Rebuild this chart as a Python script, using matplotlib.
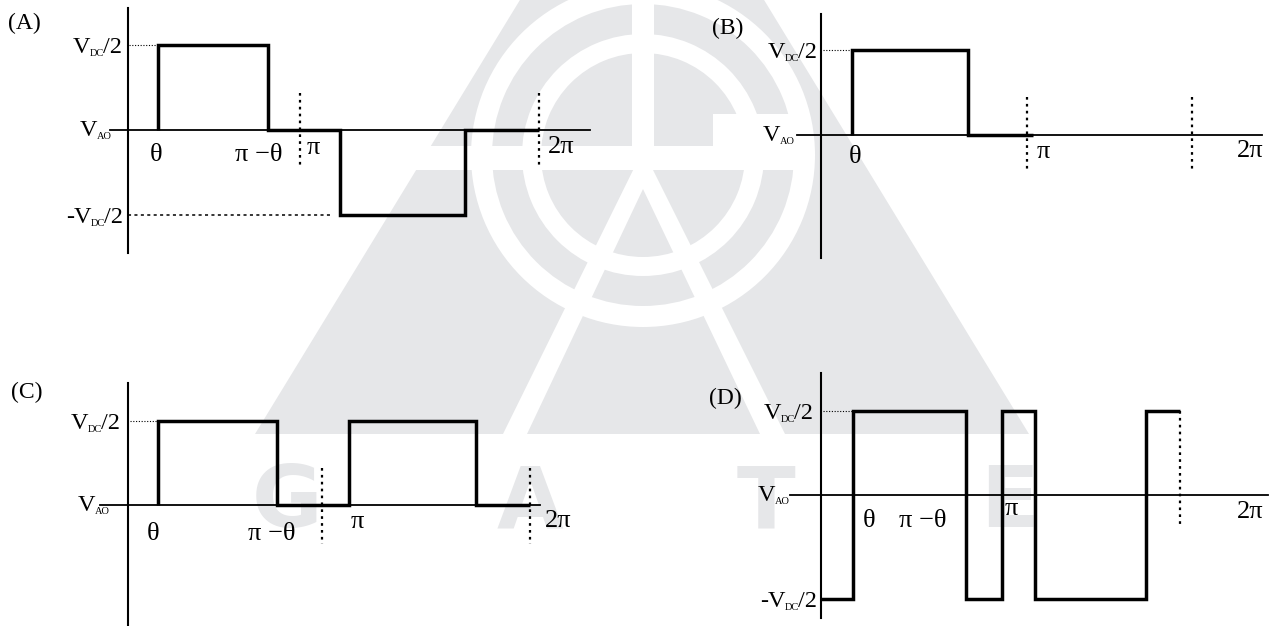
import matplotlib
matplotlib.use("Agg")
import matplotlib.pyplot as plt
from matplotlib.transforms import Affine2D
from matplotlib import patches

# ---------------- data (angles in degrees as drawn, levels in units of V_DC/2 as drawn)
panel_names = ["(A)", "(B)", "(C)", "(D)"]

A_angles = [31.4, 31.4, 146.5, 146.5, 222.0, 222.0, 352.7, 352.7, 430.0]
A_levels = [0, 1, 1, 0, 0, -1, -1, 0, 0]
B_angles = [27.1, 27.1, 128.5, 128.5, 185.0]
B_levels = [0, 1, 1, 0, 0]
C_angles = [27.8, 27.8, 138.0, 138.0, 205.0, 205.0, 323.0, 323.0, 373.0]
C_levels = [0, 1, 1, 0, 0, 1, 1, 0, 0]
D_angles = [0.0, 31.8, 31.8, 144.2, 144.2, 180.0, 180.0, 212.8, 212.8, 323.2, 323.2, 357.0]
D_levels = [-1.24, -1.24, 1, 1, -1.24, -1.24, 1, 1, -1.24, -1.24, 1, 1]

A_marks = [180.0, 430.0]
B_marks = [180.0, 324.0]
C_marks = [180.0, 373.0]
D_marks = [357.0]

A_tick_labels = ["θ", "π −θ", "π", "2π"]
A_tick_angles = [29.3, 137.0, 193.6, 453.0]
B_tick_labels = ["θ", "π", "2π"]
B_tick_angles = [29.7, 194.0, 375.0]
C_tick_labels = ["θ", "π −θ", "π", "2π"]
C_tick_angles = [23.2, 133.6, 212.4, 399.0]
D_tick_labels = ["θ", "π −θ", "π", "2π"]
D_tick_angles = [47.7, 101.4, 189.0, 426.6]

# ---------------- layout
SERIF = "Liberation Serif"
fig = plt.figure(figsize=(12.75, 6.26), dpi=100)
ax = fig.add_axes([0, 0, 1, 1])
ax.set_xlim(0, 1275)
ax.set_ylim(626, 0)
ax.axis("off")
renderer = fig.canvas.get_renderer()

# ---------------- watermark
WM = "#e6e7e9"
ax.add_patch(patches.Polygon([(642, -200), (255, 434), (1029, 434)], closed=True,
                             fc=WM, ec="none", zorder=0))
ax.add_patch(patches.Polygon([(643, 150), (503, 434), (785, 434)], closed=True,
                             fc="white", ec="none", zorder=0.1))
ax.add_patch(patches.Polygon([(643, 189), (527, 434), (760, 434)], closed=True,
                             fc=WM, ec="none", zorder=0.2))
ax.add_patch(patches.Annulus((643, 155), 172, 21, fc="white", ec="none", zorder=0.3))
ax.add_patch(patches.Annulus((643, 155), 121, 19, fc="white", ec="none", zorder=0.3))
ax.add_patch(patches.Rectangle((632, -5), 22, 152, fc="white", ec="none", zorder=0.4))
ax.add_patch(patches.Rectangle((400, 146), 409, 24, fc="white", ec="none", zorder=0.4))
ax.add_patch(patches.Rectangle((713, 114), 96, 34, fc="white", ec="none", zorder=0.4))
for letter, xc in zip(["G", "A", "T", "E"], [287, 530, 766, 1010]):
    ax.text(xc, 527, letter, ha="center", va="baseline", fontsize=62,
            fontweight="bold", family="DejaVu Sans", color=WM, zorder=0.5)

# ---------------- panels
panels = [
    dict(name=panel_names[0], x0=128, y0=130, sx=172 / 180, sy=85,
         ang=A_angles, lev=A_levels, marks=A_marks, mark_ext=(0.44, -0.45),
         vaxis=(1.435, -1.447), base=(-19.0, 483.0),
         tl=A_tick_labels, ta=A_tick_angles, tb=[161, 161, 154, 153],
         name_pos=(8, 29), lab_hi=122, lab_ao=112, lab_lo=123, neg_guide=211.0),
    dict(name=panel_names[1], x0=821, y0=135, sx=206 / 180, sy=85,
         ang=B_angles, lev=B_levels, marks=B_marks, mark_ext=(0.447, -0.435),
         vaxis=(1.424, -1.447), base=(-21.0, 385.0),
         tl=B_tick_labels, ta=B_tick_angles, tb=[163, 158, 157],
         name_pos=(712, 34), lab_hi=817, lab_ao=795, lab_lo=None, neg_guide=None),
    dict(name=panel_names[2], x0=128, y0=505, sx=194 / 180, sy=84,
         ang=C_angles, lev=C_levels, marks=C_marks, mark_ext=(0.44, -0.464),
         vaxis=(1.452, -1.50), base=(-26.0, 382.0),
         tl=C_tick_labels, ta=C_tick_angles, tb=[540, 540, 528, 527],
         name_pos=(11, 398), lab_hi=120, lab_ao=110, lab_lo=None, neg_guide=None),
    dict(name=panel_names[3], x0=821, y0=495, sx=181 / 180, sy=84,
         ang=D_angles, lev=D_levels, marks=D_marks, mark_ext=(1.0, -0.36),
         vaxis=(1.452, -1.464), base=(-30.8, 444.5),
         tl=D_tick_labels, ta=D_tick_angles, tb=[527, 527, 515, 518],
         name_pos=(709, 404), lab_hi=813, lab_ao=790, lab_lo=817, neg_guide=None),
]


def width_of(t):
    return t.get_window_extent(renderer).width


def vlabel(x_right, y_base, prefix, sub, tail, size=17.5, subsize=7.5):
    x = x_right
    if tail:
        t = ax.text(x, y_base, tail, ha="right", va="baseline", fontsize=size,
                    family=SERIF, zorder=5)
        x -= width_of(t) - 1
    s = ax.text(x, y_base + 3, sub, ha="right", va="baseline", fontsize=subsize,
                family=SERIF, zorder=5)
    x -= width_of(s) - 0.5
    ax.text(x, y_base, prefix + "V", ha="right", va="baseline", fontsize=size,
            family=SERIF, zorder=5)


for p in panels:
    tr = Affine2D().scale(p["sx"], -p["sy"]).translate(p["x0"], p["y0"]) + ax.transData
    # axes
    ax.plot([0, 0], list(p["vaxis"]), color="black", lw=1.5, transform=tr, zorder=3)
    ax.plot(list(p["base"]), [0, 0], color="black", lw=1.3, transform=tr, zorder=3)
    # waveform
    ax.plot(p["ang"], p["lev"], color="black", lw=2.5, transform=tr, zorder=4,
            solid_joinstyle="miter", solid_capstyle="butt")
    # markers
    for m in p["marks"]:
        ax.plot([m, m], list(p["mark_ext"]), color="black", lw=1.6,
                linestyle=(0, (1.2, 1.9)), transform=tr, zorder=3)
    # guide to +level
    hi = max(p["lev"])
    first_rise = p["ang"][[i for i, v in enumerate(p["lev"]) if v == hi][0]]
    ax.plot([1.5, first_rise], [hi, hi], color="black", lw=0.8,
            linestyle=(0, (1, 1.5)), transform=tr, zorder=3)
    if p["neg_guide"] is not None:
        lo = min(p["lev"])
        ax.plot([0, p["neg_guide"]], [lo, lo], color="black", lw=1.1,
                linestyle=(0, (2, 2.2)), transform=tr, zorder=3)
    # tick labels
    for lab, a, yb in zip(p["tl"], p["ta"], p["tb"]):
        xpix = p["x0"] + p["sx"] * a
        ax.text(xpix, yb, lab, ha="center", va="baseline", fontsize=19,
                family=SERIF, zorder=5)
    # panel name
    ax.text(p["name_pos"][0], p["name_pos"][1], p["name"], ha="left", va="baseline",
            fontsize=17, family=SERIF, zorder=5)
    # level labels
    y_hi = p["y0"] - p["sy"] * hi
    vlabel(p["lab_hi"], y_hi + 8, "", "DC", "/2")
    vlabel(p["lab_ao"], p["y0"] + 6, "", "AO", "")
    if p["lab_lo"] is not None:
        y_lo = p["y0"] - p["sy"] * min(p["lev"])
        vlabel(p["lab_lo"], y_lo + 8, "-", "DC", "/2")

fig.savefig("out.png", dpi=100)
